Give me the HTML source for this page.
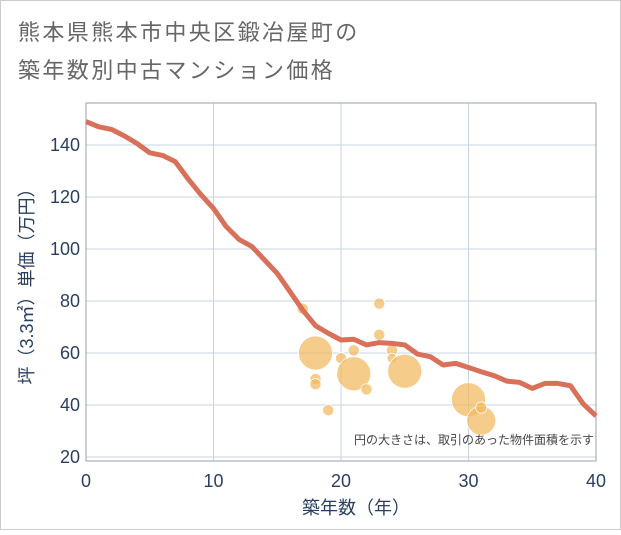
<!DOCTYPE html>
<html><head><meta charset="utf-8"><style>
body{margin:0;background:#fff;}
svg text{font-family:"Liberation Sans","Noto Sans CJK JP",sans-serif;}
</style></head><body>
<svg width="621" height="530" viewBox="0 0 621 530">
<rect x="0.5" y="0.5" width="620" height="529" fill="#fff" stroke="#ccc"/>
<text x="18" y="40" font-size="22" fill="#666" letter-spacing="2.4">熊本県熊本市中央区鍛冶屋町の</text>
<text x="18" y="78" font-size="22" fill="#666" letter-spacing="2.4">築年数別中古マンション価格</text>
<g id="grid"></g>
<rect x="86" y="103" width="510" height="358" fill="none" stroke="#9aa0a8" stroke-width="1"/>
<g id="bubbles"></g>
<path id="line" fill="none" stroke="#d9705a" stroke-width="5" stroke-linejoin="round"/>
<g id="ticks"></g>
<text x="594" y="444" font-size="12" fill="#444" text-anchor="end">円の大きさは、取引のあった物件面積を示す</text>
<text x="356" y="514" font-size="18" fill="#2a3f5f" text-anchor="middle">築年数（年）</text>
<text transform="translate(33,282) rotate(-90)" font-size="18" fill="#2a3f5f" text-anchor="middle">坪（3.3㎡）単価（万円）</text>
</svg>
<script>
const lineYears=[0,1,2,3,4,5,6,7,8,9,10,11,12,13,14,15,16,17,18,19,20,21,22,23,24,25,26,27,28,29,30,31,32,33,34,35,36,37,38,39,40];
const linePrices=[149,147,146,143.5,140.6,137,136,133.6,127,121,115.6,108.6,103.7,101,95.8,90.6,83.6,76.5,70.5,67.6,65,65.3,63.1,64,63.7,63.1,59.6,58.6,55.4,56,54.4,52.8,51.3,49.2,48.7,46.4,48.3,48.3,47.4,40.4,35.8];
const bubbleYears=[17,18,18,18,19,20,21,21,22,23,23,24,24,25,30,31,31];
const bubblePrices=[77,60,50,48,38,58,61,52,46,79,67,61,58,53,42,34,39];
const bubbleSizes=[32,290,32,32,32,32,32,290,32,32,32,32,25,290,290,210,32];
const xTicks=[0,10,20,30,40];
const yTicks=[20,40,60,80,100,120,140];
const NS="http://www.w3.org/2000/svg";
const X=v=>86+v*(510/40);
const Y=v=>145+(140-v)*(312/120);
const grid=document.getElementById('grid'),ticks=document.getElementById('ticks'),bub=document.getElementById('bubbles');
xTicks.forEach(t=>{
 const l=document.createElementNS(NS,'line');
 
 
 l.setAttribute('x1',X(t));l.setAttribute('x2',X(t));l.setAttribute('y1',103);l.setAttribute('y2',461);l.setAttribute('stroke','#c8d4e3');grid.appendChild(l);
 const tx=document.createElementNS(NS,'text');
 
 
 tx.setAttribute('x',X(t));tx.setAttribute('y',487);tx.setAttribute('font-size','18');tx.setAttribute('fill','#2a3f5f');tx.setAttribute('text-anchor','middle');tx.textContent=t;ticks.appendChild(tx);
});
yTicks.forEach(t=>{
 const l=document.createElementNS(NS,'line');
 
 
 l.setAttribute('x1',86);l.setAttribute('x2',596);l.setAttribute('y1',Y(t));l.setAttribute('y2',Y(t));l.setAttribute('stroke','#c8d4e3');grid.appendChild(l);
 const tx=document.createElementNS(NS,'text');
 
 
 tx.setAttribute('x',80);tx.setAttribute('y',Y(t)+6);tx.setAttribute('font-size','18');tx.setAttribute('fill','#2a3f5f');tx.setAttribute('text-anchor','end');tx.textContent=t;ticks.appendChild(tx);
});
bubbleYears.forEach((yr,i)=>{
 const c=document.createElementNS(NS,'circle');
 
 
 c.setAttribute('cx',X(yr));c.setAttribute('cy',Y(bubblePrices[i]));c.setAttribute('r',Math.sqrt(bubbleSizes[i]));
 c.setAttribute('fill','#f2b85e');c.setAttribute('fill-opacity','0.72');c.setAttribute('stroke','#fff');c.setAttribute('stroke-width','0.8');bub.appendChild(c);
});
document.getElementById('line').setAttribute('d',lineYears.map((yr,i)=>(i?'L':'M')+X(yr)+','+Y(linePrices[i])).join(''));
</script>
</body></html>
